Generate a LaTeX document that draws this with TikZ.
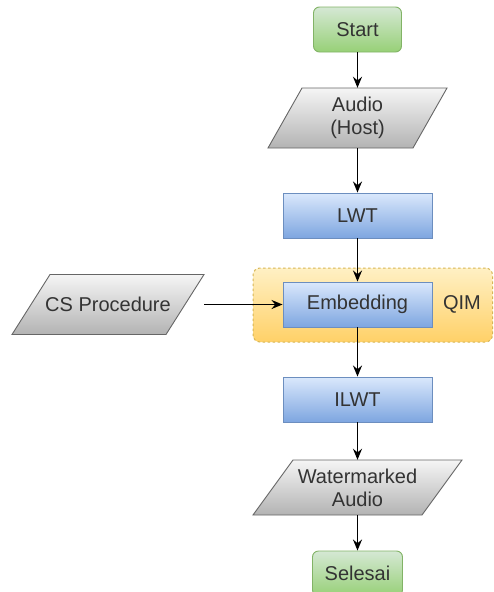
\documentclass[tikz,border=0pt]{standalone}
\usepackage{fontspec}
\setmainfont{Liberation Sans}
\usetikzlibrary{arrows.meta}

\definecolor{txt}{HTML}{333333}
\definecolor{termtop}{HTML}{D5E8D4}
\definecolor{termbot}{HTML}{97D077}
\definecolor{termline}{HTML}{82B366}
\definecolor{proctop}{HTML}{DAE8FC}
\definecolor{procbot}{HTML}{7EA6E0}
\definecolor{procline}{HTML}{6C8EBF}
\definecolor{iotop}{HTML}{F5F5F5}
\definecolor{iobot}{HTML}{B3B3B3}
\definecolor{ioline}{HTML}{666666}
\definecolor{zonetop}{HTML}{FFF0C4}
\definecolor{zonebot}{HTML}{FFD966}
\definecolor{zoneline}{HTML}{D6B656}

\tikzset{
  base/.style={font=\fontsize{20}{23}\selectfont, text=txt, align=center, inner sep=0pt},
  term/.style={base, rounded corners=6pt, draw=termline, line width=0.9pt,
    top color=termtop, bottom color=termbot, minimum height=45pt},
  proc/.style={base, draw=procline, line width=0.9pt,
    top color=proctop, bottom color=procbot, minimum width=149pt, minimum height=45pt},
  iobody/.style={draw=ioline, line width=0.9pt, top color=iotop, bottom color=iobot},
  zone/.style={draw=zoneline, line width=1pt, dash pattern=on 2.5pt off 2.5pt,
    rounded corners=7pt, top color=zonetop, bottom color=zonebot!85!orange!90},
  flow/.style={-{Stealth[length=11pt,width=9pt]}, line width=1.6pt, black},
}

% data (parallelogram) block: name, centre x, centre y, width, height, slant, text
\newcommand\iobox[7]{%
  \path[iobody]
    ({#2-#4/2+#6},{#3-#5/2}) -- ({#2+#4/2},{#3-#5/2}) --
    ({#2+#4/2-#6},{#3+#5/2}) -- ({#2-#4/2},{#3+#5/2}) -- cycle;
  \node[base, minimum width=#4pt, minimum height=#5pt] (#1) at (#2,#3) {#7};
}

\begin{document}
\begin{tikzpicture}[x=1pt, y=-1pt]
  \useasboundingbox (0,0) rectangle (494,592);

  % QIM embedding zone
  \node[zone, minimum width=239.5pt, minimum height=74pt] (zone) at (372.75,305) {};
  \node[base] (qim) at (462,304.5) {QIM};

  % main chain
  \node[term, minimum width=88pt] (start) at (357.5,29.5) {Start};
  \iobox{host}{357.5}{118}{179}{60}{34}{Audio\\(Host)}
  \node[proc] (lwt) at (357.5,215.5) {LWT};
  \node[proc] (emb) at (357.5,304.5) {Embedding};
  \node[proc] (ilwt) at (357.5,399.5) {ILWT};
  \iobox{wm}{357.5}{487.5}{209}{55}{40}{Watermarked\\Audio}
  \node[term, minimum width=90pt] (end) at (357.5,573.5) {Selesai};

  % side input
  \iobox{cs}{108}{304.5}{192}{60}{38}{CS Procedure}

  % connectors
  \draw[flow] (start) -- (host);
  \draw[flow] (host) -- (lwt);
  \draw[flow] (lwt) -- (emb);
  \draw[flow] (emb) -- (ilwt);
  \draw[flow] (ilwt) -- (wm);
  \draw[flow] (wm) -- (end);
  \draw[flow] (cs) -- (emb);
\end{tikzpicture}
\end{document}
